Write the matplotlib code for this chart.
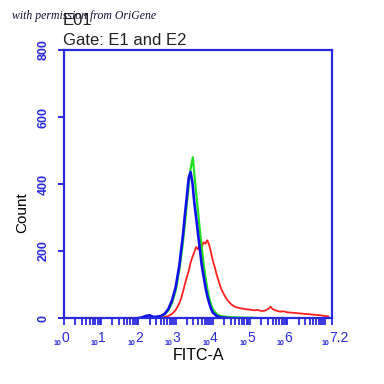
import numpy as np
import matplotlib.pyplot as plt
from matplotlib import transforms

# histogram values (log10 of FITC-A, count)
blue_logx = [2.0, 2.1, 2.2, 2.3, 2.4, 2.5, 2.6, 2.7, 2.8, 2.9, 3.0, 3.05, 3.1, 3.15, 3.2,
             3.25, 3.3, 3.35, 3.4, 3.45, 3.5, 3.55, 3.6, 3.65, 3.7, 3.75, 3.8, 3.85,
             3.9, 3.95, 4.0, 4.1, 4.2, 4.4]
blue_count = [0, 2, 6, 8, 3, 4, 6, 12, 26, 52, 92, 125, 158, 205, 252,
              310, 362, 418, 436, 405, 345, 300, 252, 205, 158, 125, 92, 66,
              45, 28, 16, 6, 2, 0]

green_logx = [2.4, 2.5, 2.6, 2.7, 2.8, 2.9, 3.0, 3.05, 3.1, 3.15, 3.2, 3.25, 3.3,
              3.35, 3.4, 3.46, 3.5, 3.55, 3.6, 3.65, 3.7, 3.75, 3.8, 3.85, 3.9,
              3.95, 4.0, 4.1, 4.2, 4.4, 4.6, 4.8, 5.0, 5.2]
green_count = [0, 2, 5, 10, 22, 44, 82, 112, 145, 186, 230, 285, 340,
               395, 445, 480, 432, 375, 318, 262, 210, 162, 122, 88, 60,
               40, 26, 12, 6, 3, 2, 1, 1, 0]

red_logx = [2.5, 2.7, 2.8, 2.9, 3.0, 3.1, 3.15, 3.2, 3.25, 3.3, 3.35, 3.4, 3.45,
            3.5, 3.55, 3.6, 3.65, 3.7, 3.75, 3.8, 3.85, 3.9, 3.95, 4.0, 4.05,
            4.1, 4.15, 4.2, 4.25, 4.3, 4.35, 4.4, 4.5, 4.6, 4.7, 4.8, 4.9, 5.0,
            5.1, 5.2, 5.3, 5.4, 5.5, 5.55, 5.6, 5.7, 5.8, 5.9, 6.0, 6.1, 6.2,
            6.3, 6.4, 6.5, 6.6, 6.7, 6.8, 6.9, 7.0, 7.1]
red_count = [0, 3, 6, 12, 24, 44, 60, 80, 102, 122, 140, 165, 182,
             196, 212, 205, 218, 212, 226, 222, 232, 218, 196, 170, 152,
             130, 112, 94, 80, 70, 60, 52, 40, 33, 30, 28, 26, 25,
             23, 24, 21, 22, 28, 34, 27, 22, 19, 20, 17, 16, 15,
             14, 13, 12, 11, 10, 9, 8, 6, 5]

yticks = [0, 200, 400, 600, 800]
decades = [0, 1, 2, 3, 4, 5, 6, 7.2]

axis_blue = '#2a2ae0'

fig = plt.figure(figsize=(3.84, 3.84), dpi=100)
ax = fig.add_axes([64 / 384, 1 - 318 / 384, 268 / 384, 268 / 384])

ax.plot(10 ** np.array(red_logx), red_count, color='#ff2020', lw=1.3)
ax.plot(10 ** np.array(green_logx), green_count, color='#20e020', lw=1.6)
ax.plot(10 ** np.array(blue_logx), blue_count, color='#1010e8', lw=1.9)

ax.set_xscale('log')
ax.set_xlim(1, 10 ** 7.2)
ax.set_ylim(0, 800)

for s in ax.spines.values():
    s.set_color(axis_blue)
    s.set_linewidth(1.6)

ax.set_yticks(yticks)
ax.set_yticklabels([str(v) for v in yticks], rotation=90, va='center',
                   fontsize=9, fontweight='bold', color=axis_blue,
                   family='Liberation Sans')
ax.tick_params(axis='y', direction='out', length=4.5, width=1.4, color=axis_blue, pad=6)

# minor ticks 2..9 per decade, major at decades
major = [10 ** d for d in range(0, 8)] + [10 ** 7.2]
minor = [m * 10 ** d for d in range(0, 7) for m in range(2, 10)]
ax.set_xticks(major)
ax.set_xticks(minor, minor=True)
ax.set_xticklabels([])
ax.set_xticklabels([], minor=True)
ax.tick_params(axis='x', which='both', direction='out', length=5, width=1.3, color=axis_blue)

# stylised decade labels
tr = transforms.blended_transform_factory(ax.transData, ax.transAxes)
shift = transforms.ScaledTranslation(-3 / 100, 0, fig.dpi_scale_trans)
for d in decades:
    lab = str(d)
    ax.text(10 ** d, -0.101, '10', transform=tr + shift, ha='right', va='baseline',
            fontsize=5, fontweight='bold', color=axis_blue, family='Liberation Sans')
    ax.text(10 ** d, -0.090, lab, transform=tr + shift, ha='left', va='baseline',
            fontsize=10, color=axis_blue, family='Liberation Sans')

fig.text(22.5 / 384, 1 - 213 / 384, 'Count', rotation=90, ha='center', va='center',
         fontsize=11, family='Liberation Sans')
fig.text(199 / 384, 1 - 356 / 384, 'FITC-A', ha='center', va='center',
         fontsize=11.5, family='Liberation Sans')
fig.text(63 / 384, 1 - 25 / 384, 'E01', ha='left', va='baseline',
         fontsize=12, family='Liberation Sans', color='#222222')
fig.text(63 / 384, 1 - 45 / 384, 'Gate: E1 and E2', ha='left', va='baseline',
         fontsize=12, family='Liberation Sans', color='#222222')
fig.text(12 / 384, 1 - 16 / 384, 'with permission from OriGene', ha='left', va='center',
         fontsize=8.5, style='italic', family='Liberation Serif', color='#111133')

fig.savefig('out.png', dpi=100)
